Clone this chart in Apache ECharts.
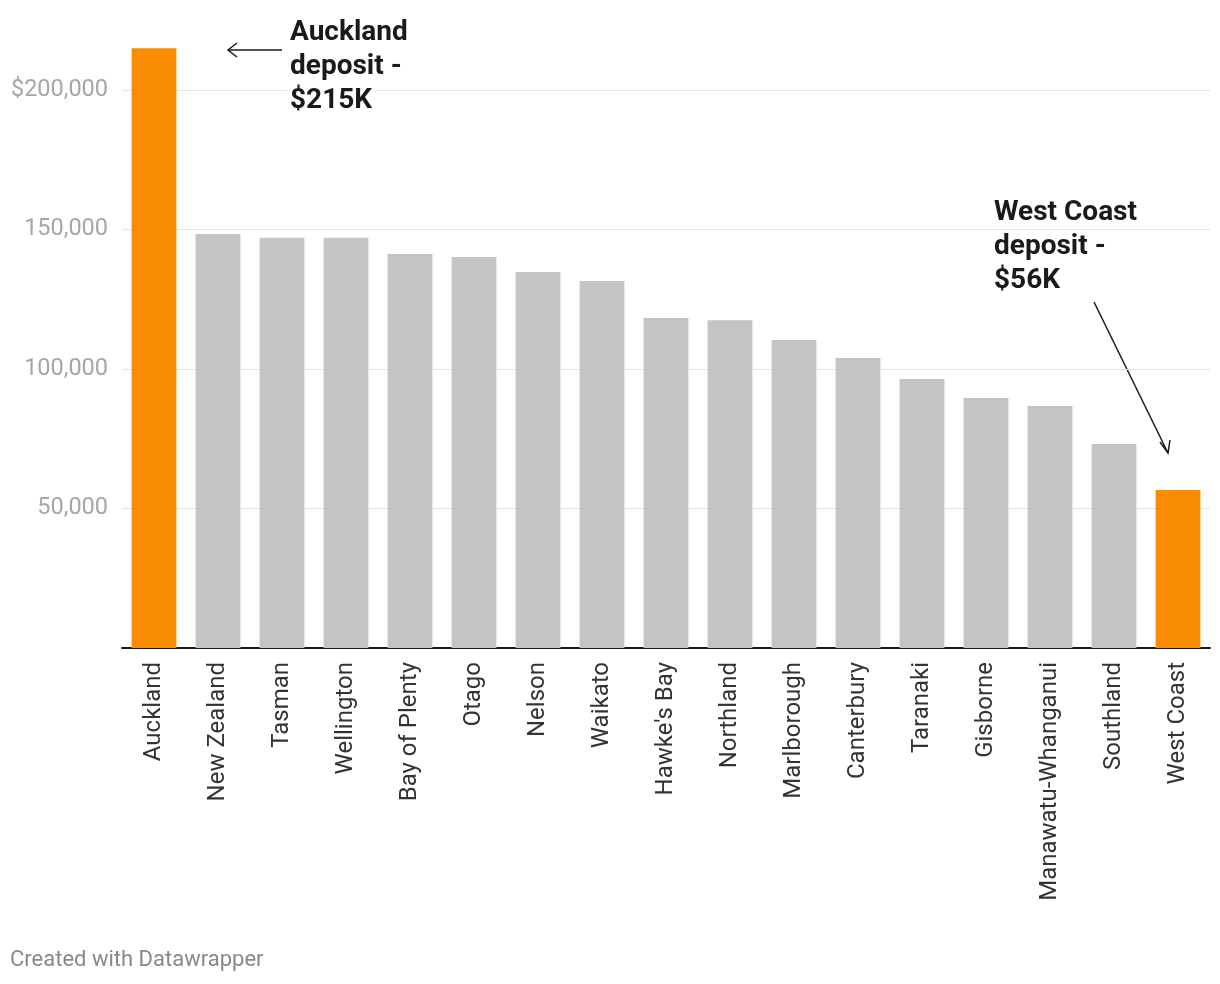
<!DOCTYPE html>
<html><head><meta charset="utf-8">
<script src="https://cdn.jsdelivr.net/npm/echarts@6/dist/echarts.min.js"></script>
<style>html,body{margin:0;padding:0;background:#fff}#c{width:1220px;height:984px}</style>
</head><body><div id="c"></div>
<script>
const regions = ["Auckland","New Zealand","Tasman","Wellington","Bay of Plenty","Otago","Nelson","Waikato","Hawke's Bay","Northland","Marlborough","Canterbury","Taranaki","Gisborne","Manawatu-Whanganui","Southland","West Coast"];
const deposits = [215000,148400,147000,147000,141200,140100,134800,131500,118300,117500,110400,103900,96400,89600,86700,73100,56600];
const highlighted = ["Auckland","West Coast"];
const yTicks = [0,50000,100000,150000,200000];

const chart = echarts.init(document.getElementById('c'), null, {renderer:'canvas'});
const font = 'Roboto, "Liberation Sans", sans-serif';
const annRich = {a:{font:'bold 28px '+font,fill:'#1a1a1a',backgroundColor:'#fff',lineHeight:34,padding:[0,3,0,3]}};
chart.setOption({
  animation:false,
  grid:{left:122,right:10,top:90,bottom:336,containLabel:false},
  xAxis:{type:'category',data:regions,
    axisLine:{show:true,lineStyle:{color:'#1a1a1a',width:2}},
    axisTick:{show:false},
    axisLabel:{rotate:90,fontSize:24,color:'#333',fontFamily:font,margin:14,interval:0}},
  yAxis:{type:'value',min:yTicks[0],max:yTicks[yTicks.length-1],interval:50000,
    axisLine:{show:false},axisTick:{show:false},
    splitLine:{lineStyle:{color:'#e3e3e3',width:1}},
    axisLabel:{fontSize:23.5,color:'#a6a6a6',fontFamily:font,margin:14,
      formatter:v=>v===0?'':(v===200000?'$':'')+v.toLocaleString('en-US')}},
  series:[{type:'bar',clip:false,barCategoryGap:'30%',
    data:deposits.map((v,i)=>({value:v,itemStyle:{color:highlighted.includes(regions[i])?'#f98c00':'#c4c4c4'}}))}],
  graphic:[
    {type:'text',left:287,top:16,z:100,style:{text:'{a|Auckland}\n{a|deposit -}\n{a|$215K}',rich:annRich,font:'bold 28px '+font,lineHeight:34}},
    {type:'text',left:991,top:196,z:100,style:{text:'{a|West Coast}\n{a|deposit -}\n{a|$56K}',rich:annRich,font:'bold 28px '+font,lineHeight:34}},
    {type:'line',shape:{x1:282,y1:50,x2:228,y2:50},style:{stroke:'#1a1a1a',lineWidth:1.5}},
    {type:'polyline',shape:{points:[[237,43],[228,50],[237,57]]},style:{stroke:'#1a1a1a',lineWidth:1.5,fill:null}},
    {type:'line',shape:{x1:1094,y1:302,x2:1168,y2:453},style:{stroke:'#1a1a1a',lineWidth:1.5}},
    {type:'polyline',shape:{points:[[1160,442],[1168,453],[1170,440]]},style:{stroke:'#1a1a1a',lineWidth:1.5,fill:null}},
    {type:'text',left:10,top:949,style:{text:'Created with Datawrapper',font:'22px '+font,fill:'#888'}}
  ]
});
</script></body></html>
